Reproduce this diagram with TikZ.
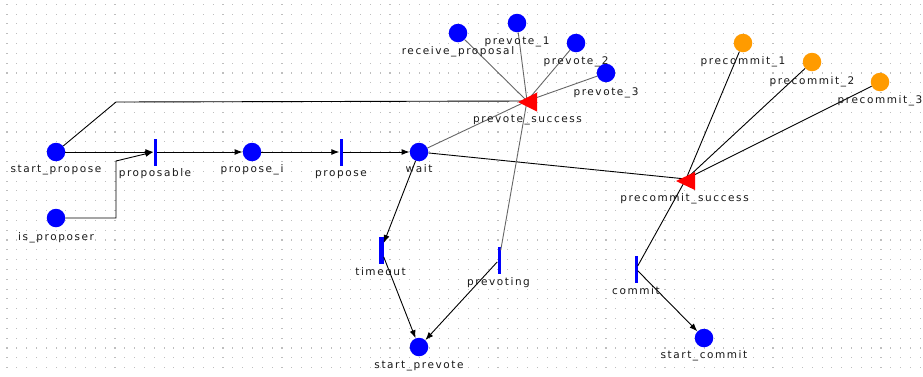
\documentclass[tikz,border=0pt]{standalone}
\usepackage{fontspec}
\newfontfamily\lblfont{DejaVu Sans}[LetterSpace=15]
\usetikzlibrary{arrows.meta}
\definecolor{tokenorange}{RGB}{255,155,0}
\definecolor{griddot}{RGB}{190,190,190}
\begin{document}
\begin{tikzpicture}[x=1pt,y=-1pt,
  place/.style={circle,fill=blue,minimum size=18.5pt,inner sep=0pt},
  oplace/.style={place,fill=tokenorange},
  trans/.style={rectangle,fill=blue,minimum width=3pt,minimum height=27pt,inner sep=0pt},
  lbl/.style={font=\lblfont\fontsize{10.5}{12}\selectfont,text=black!90,anchor=base,inner sep=0pt},
  arc/.style={draw=black,line width=0.9pt},
  garc/.style={draw=black!60,line width=0.9pt},
  arr/.style={arc,-{Latex[length=8pt,width=6pt]}}]
% canvas and dotted grid
\fill[white] (0,0) rectangle (923,376);
\useasboundingbox (0,0) rectangle (923,376);
\foreach \i in {0,...,93}{
  \foreach \j in {0,...,37}{
    \fill[griddot] ({7+9.82*\i-0.55},{4.3+9.82*\j-0.55}) rectangle ++(1.1,1.1);
  }
}
% places
\node[place] (sp) at (56,152) {};
\node[place] (isp) at (56,218) {};
\node[place] (pi) at (252,152) {};
\node[place] (wt) at (419,152) {};
\node[place] (rp) at (458,33) {};
\node[place] (pv1) at (517,23) {};
\node[place] (pv2) at (576,43) {};
\node[place] (pv3) at (606,73) {};
\node[oplace] (pc1) at (743,43) {};
\node[oplace] (pc2) at (812,62) {};
\node[oplace] (pc3) at (880,82) {};
\node[place] (spv) at (419,347) {};
\node[place] (sc) at (704,338) {};
% transitions
\node[trans] (pble) at (155,152) {};
\node[trans] (pro) at (341,152) {};
\node[trans,minimum width=5pt] (to) at (381,250) {};
\node[trans] (pvt) at (499,260) {};
\node[trans] (cm) at (636,269) {};
% threshold transitions (triangles drawn after the arcs)
\coordinate (pvs) at (527,101);
\coordinate (pcs) at (686,179);
\coordinate (b1) at (116,218);
\coordinate (b2) at (116,161);
\coordinate (b3) at (116,102);
% arcs
\draw[arr] (sp) -- (pble);
\draw[arr] (isp) -- (b1) -- (b2) -- (pble.west);
\draw[arc] (sp) -- (b3) -- (pvs);
\draw[arr] (pble) -- (pi);
\draw[arr] (pi) -- (pro);
\draw[arr] (pro) -- (wt);
\draw[garc] (wt) -- (pvs);
\draw[arc] (wt) -- (pcs);
\draw[garc] (rp) -- (pvs);
\draw[garc] (pv1) -- (pvs);
\draw[garc] (pv2) -- (pvs);
\draw[garc] (pv3) -- (pvs);
\draw[garc] (pvs) -- (pvt);
\draw[arc] (pc1) -- (pcs);
\draw[arc] (pc2) -- (pcs);
\draw[arc] (pc3) -- (pcs);
\draw[arc] (pcs) -- (cm);
\draw[arr] (wt) -- (to);
\draw[arr] (to) -- (spv);
\draw[arr] (pvt) -- (spv);
\draw[arr] (cm) -- (sc);
% triangles
\fill[red] (518,102) -- (537,92.5) -- (537,111.5) -- cycle;
\fill[red] (676,181) -- (695,172) -- (695,190) -- cycle;
% labels
\node[lbl] at (56,172) {start\_propose};
\node[lbl] at (56,240) {is\_proposer};
\node[lbl] at (155,176) {proposable};
\node[lbl] at (252,172) {propose\_i};
\node[lbl] at (341,176.5) {propose};
\node[lbl] at (419,172) {wait};
\node[lbl] at (458,54) {receive\_proposal};
\node[lbl] at (517,44) {prevote\_1};
\node[lbl] at (576,64) {prevote\_2};
\node[lbl] at (606,95) {prevote\_3};
\node[lbl] at (527.5,122.5) {prevote\_success};
\node[lbl] at (743,64) {precommit\_1};
\node[lbl] at (812,84) {precommit\_2};
\node[lbl] at (880,103) {precommit\_3};
\node[lbl] at (684.5,201.5) {precommit\_success};
\node[lbl] at (380.5,275) {timeout};
\node[lbl] at (498.5,285) {prevoting};
\node[lbl] at (636,294) {commit};
\node[lbl] at (419,368) {start\_prevote};
\node[lbl] at (704,358) {start\_commit};
\end{tikzpicture}
\end{document}
